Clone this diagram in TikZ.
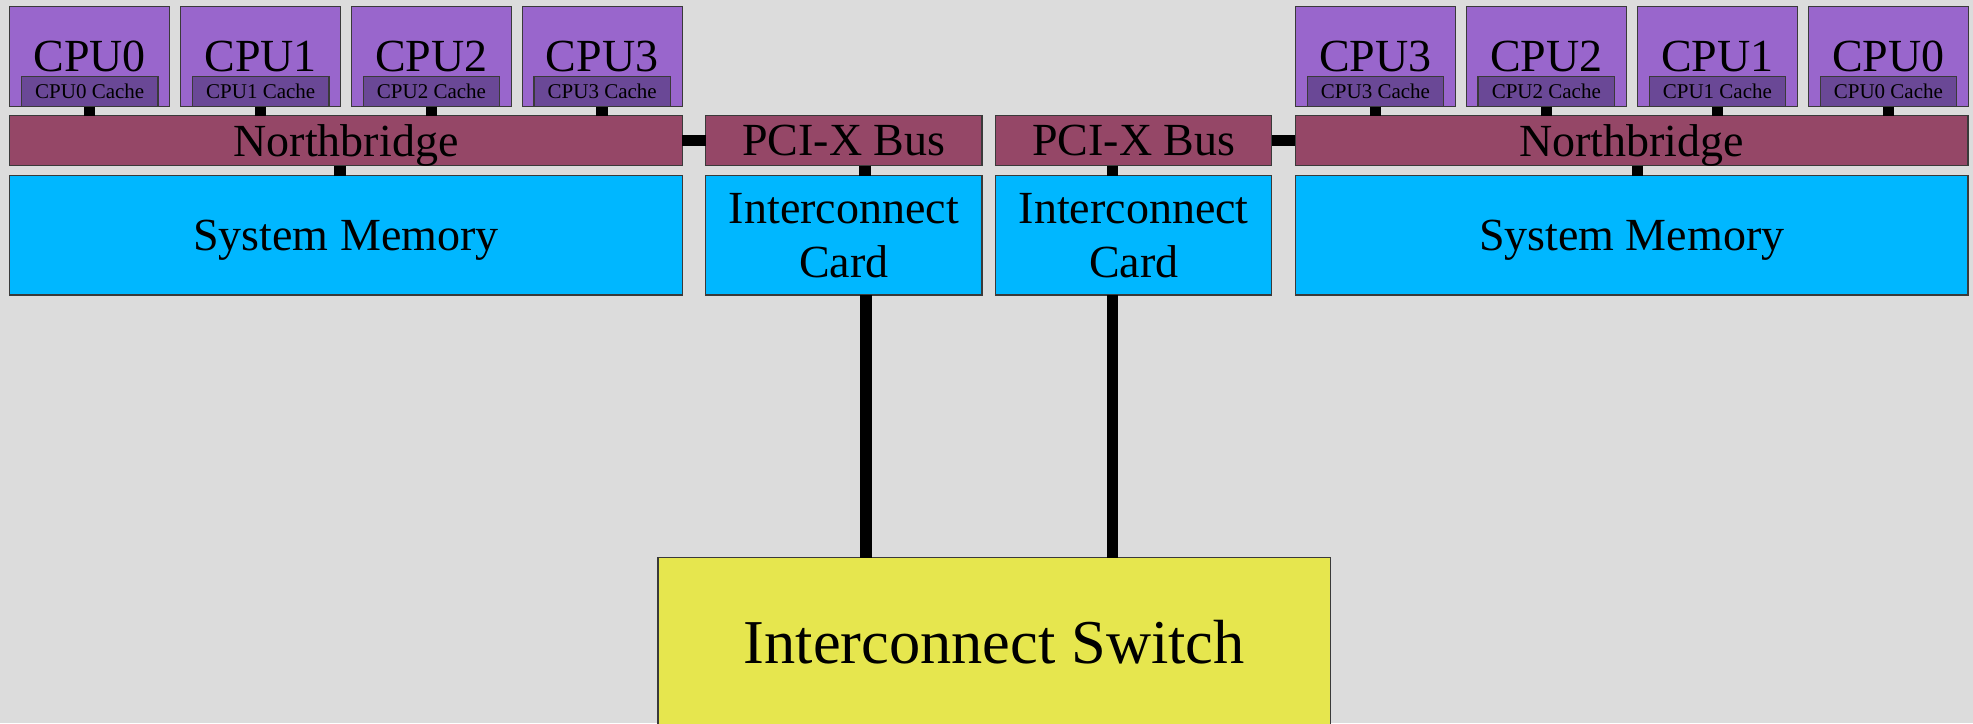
\documentclass[tikz,border=0pt]{standalone}
\usepackage{fontspec}
\setmainfont{Liberation Serif}
\definecolor{bgcol}{HTML}{DCDCDC}
\definecolor{cpucol}{HTML}{9966CC}
\definecolor{cachecol}{HTML}{6A4896}
\definecolor{bridgecol}{HTML}{954767}
\definecolor{memcol}{HTML}{00B7FF}
\definecolor{switchcol}{HTML}{E6E64E}
\definecolor{edgecol}{HTML}{3A3A3A}
\tikzset{
  box/.style={draw=edgecol, line width=1.2pt, inner sep=0pt, outer sep=0pt,
    text depth=0pt, align=center, font=\fontsize{46}{53.4}\selectfont},
  cpubox/.style={box, fill=cpucol, minimum width=160pt, minimum height=100pt},
  cachebox/.style={box, fill=cachecol, minimum width=136.6pt, minimum height=30.4pt,
    font=\fontsize{21}{25}\selectfont},
  bridgebox/.style={box, fill=bridgecol, minimum height=50pt},
  membox/.style={box, fill=memcol, minimum height=119.3pt},
  switchbox/.style={box, fill=switchcol, font=\fontsize{62.4}{70}\selectfont},
  link/.style={line width=11.5pt, black}
}
\begin{document}
\begin{tikzpicture}[x=1pt, y=-1pt]
\fill[bgcol] (0,0) rectangle (1973,723);
\useasboundingbox (0,0) rectangle (1973,723);

% left node: four CPUs with their caches
\foreach \n/\x in {0/89.7,1/260.7,2/431.5,3/602.2} {
  \node[cpubox] (l\n) at (\x,56.7) {CPU\n};
  \node[cachebox] (lc\n) at (\x,91.5) {CPU\n\ Cache};
}
% right node: mirrored order
\foreach \n/\x in {3/1375.5,2/1546.3,1/1717.4,0/1888.4} {
  \node[cpubox] (r\n) at (\x,56.7) {CPU\n};
  \node[cachebox] (rc\n) at (\x,91.5) {CPU\n\ Cache};
}

% bridges, buses and memory
\node[bridgebox, minimum width=672.3pt] (nbL) at (346,140.7) {Northbridge};
\node[bridgebox, minimum width=672.5pt] (nbR) at (1631.7,140.7) {Northbridge};
\node[bridgebox, minimum width=276.3pt] (pciL) at (843.9,140.7) {PCI-X Bus};
\node[bridgebox, minimum width=276.3pt] (pciR) at (1133.7,140.7) {PCI-X Bus};
\node[membox, minimum width=672.3pt] (memL) at (346,235.35) {System Memory};
\node[membox, minimum width=672.5pt] (memR) at (1631.7,235.35) {System Memory};
\node[membox, minimum width=276.3pt] (cardL) at (843.9,235.35) {Interconnect\\Card};
\node[membox, minimum width=276.3pt] (cardR) at (1133.7,235.35) {Interconnect\\Card};

% switch
\node[switchbox, minimum width=672.7pt, minimum height=169.5pt] (sw) at (994.25,642.25) {Interconnect Switch};

% cache to northbridge links
\foreach \n in {0,1,2,3} {
  \draw[link] (lc\n.south) -- (lc\n.south |- nbL.north);
  \draw[link] (rc\n.south) -- (rc\n.south |- nbR.north);
}
% northbridge to memory
\draw[link] ([xshift=-6pt]nbL.south) -- ([xshift=-6pt]nbL.south |- memL.north);
\draw[link] ([xshift=6pt]nbR.south) -- ([xshift=6pt]nbR.south |- memR.north);
% northbridge to PCI-X bus
\draw[link] (nbL.east) -- (pciL.west);
\draw[link] (pciR.east) -- (nbR.west);
% bus to card
\draw[link] ([xshift=21pt]pciL.south) -- ([xshift=21pt]pciL.south |- cardL.north);
\draw[link] ([xshift=-21pt]pciR.south) -- ([xshift=-21pt]pciR.south |- cardR.north);
% cards to switch
\draw[link] ([xshift=22pt]cardL.south) -- ([xshift=22pt]cardL.south |- sw.north);
\draw[link] ([xshift=-21pt]cardR.south) -- ([xshift=-21pt]cardR.south |- sw.north);
\end{tikzpicture}
\end{document}
